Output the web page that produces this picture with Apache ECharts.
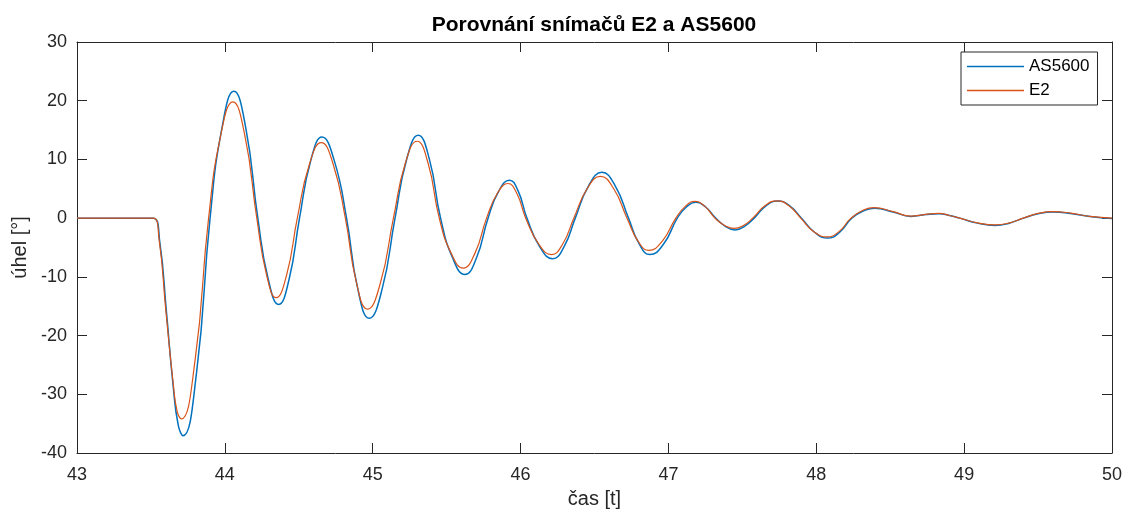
<!DOCTYPE html>
<html>
<head>
<meta charset="utf-8">
<script src="https://cdn.jsdelivr.net/npm/echarts@6/dist/echarts.min.js"></script>
<style>
html,body{margin:0;padding:0;background:#fff;}
#chart{width:1125px;height:514px;}
</style>
</head>
<body>
<div id="chart"></div>
<script>
// Data read (estimated) from the reference picture
const titleText = 'Porovnání snímačů E2 a AS5600';
const xLabel = 'čas [t]';
const yLabel = 'úhel [°]';
const seriesNames = ['AS5600', 'E2'];

const as5600X = [43.00, 43.25, 43.515, 43.56, 43.605, 43.65, 43.685, 43.717, 43.8085, 43.90, 43.98, 44.061, 44.142, 44.223, 44.2935, 44.364, 44.4345, 44.505, 44.581, 44.657, 44.74, 44.823, 44.8995, 44.976, 45.0635, 45.151, 45.2295, 45.308, 45.3835, 45.459, 45.541, 45.623, 45.7015, 45.78, 45.8525, 45.925, 45.984, 46.043, 46.13, 46.217, 46.2935, 46.37, 46.46, 46.55, 46.64, 46.73, 46.8025, 46.875, 46.9675, 47.06, 47.1215, 47.183, 47.2515, 47.32, 47.385, 47.45, 47.515, 47.58, 47.66, 47.74, 47.82, 47.90, 47.9885, 48.077, 48.1585, 48.24, 48.318, 48.396, 48.52, 48.64, 48.74, 48.83, 48.90, 48.97, 49.09, 49.21, 49.30, 49.40, 49.50, 49.60, 49.72, 49.85, 50.00];
const as5600Y = [0, 0, 0, -4.1, -16, -28.5, -35.3, -37.05, -26.3, 0, 15.3, 21.6, 15.3, 0, -10.4, -14.7, -10.4, 0, 9.8, 13.8, 9.8, 0, -12.1, -17.05, -12.1, 0, 10.0, 14.1, 10.0, 0, -6.8, -9.6, -6.8, 0, 4.6, 6.45, 4.6, 0, -4.9, -6.9, -4.9, 0, 5.5, 7.8, 5.5, 0, -4.4, -6.2, -4.4, 0, 1.9, 2.7, 1.9, 0, -1.4, -2.0, -1.4, 0, 2.1, 2.9, 2.1, 0, -2.4, -3.4, -2.4, 0, 1.2, 1.7, 1.05, 0.3, 0.6, 0.75, 0.45, 0, -0.85, -1.25, -0.9, 0, 0.75, 1.05, 0.8, 0.3, -0.05];

const e2X = [43.00, 43.25, 43.515, 43.555, 43.60, 43.65, 43.678, 43.706, 43.798, 43.89, 43.972, 44.054, 44.135, 44.216, 44.2815, 44.347, 44.4185, 44.49, 44.571, 44.652, 44.7335, 44.815, 44.89, 44.965, 45.0525, 45.14, 45.22, 45.30, 45.375, 45.45, 45.531, 45.612, 45.691, 45.77, 45.8425, 45.915, 45.975, 46.035, 46.1225, 46.21, 46.285, 46.36, 46.45, 46.54, 46.63, 46.72, 46.794, 46.868, 46.959, 47.05, 47.114, 47.178, 47.2465, 47.315, 47.38, 47.445, 47.5075, 47.57, 47.6525, 47.735, 47.815, 47.895, 47.9835, 48.072, 48.1535, 48.235, 48.3125, 48.39, 48.52, 48.64, 48.74, 48.83, 48.90, 48.97, 49.09, 49.21, 49.30, 49.40, 49.50, 49.60, 49.72, 49.85, 50.00];
const e2Y = [0, 0, 0, -3.6, -15.5, -28, -33.0, -34.2, -24.3, 0, 14.1, 19.8, 14.1, 0, -9.6, -13.55, -9.6, 0, 9.1, 12.85, 9.1, 0, -11.0, -15.5, -11.0, 0, 9.3, 13.1, 9.3, 0, -6.0, -8.5, -6.0, 0, 4.2, 5.9, 4.2, 0, -4.4, -6.2, -4.4, 0, 5.0, 7.1, 5.0, 0, -3.9, -5.5, -3.9, 0, 2.0, 2.85, 2.0, 0, -1.25, -1.75, -1.25, 0, 2.1, 2.95, 2.1, 0, -2.3, -3.2, -2.3, 0, 1.3, 1.8, 1.1, 0.35, 0.65, 0.8, 0.45, 0, -0.8, -1.15, -0.85, 0, 0.8, 1.1, 0.85, 0.3, 0];

const xTicks = {min: 43, max: 50, interval: 1};
const yTicks = {min: -40, max: 30, interval: 10};

const pair = (xs, ys) => xs.map((x, i) => [x, ys[i]]);

const axisColor = '#262626';
const font = 'Liberation Sans, Arial, Helvetica, sans-serif';

const chart = echarts.init(document.getElementById('chart'), null, {renderer: 'canvas'});
const baseAxis = {
  axisLine: {show: true, onZero: false, lineStyle: {color: axisColor, width: 1}},
  axisTick: {show: true, inside: true, length: 10, lineStyle: {color: axisColor}},
  splitLine: {show: false}
};
chart.setOption({
  animation: false,
  backgroundColor: '#fff',
  title: {
    text: titleText, left: 589, top: 10, textAlign: 'center',
    textStyle: {fontFamily: font, fontSize: 21, fontWeight: 'bold', color: '#000'}
  },
  legend: {
    data: seriesNames.map(n => ({name: n, icon: 'rect'})),
    orient: 'vertical', left: 961, top: 52,
    itemWidth: 57, itemHeight: 1.5, itemGap: 5,
    padding: [5, 8, 5, 6],
    borderColor: axisColor, borderWidth: 1, backgroundColor: '#fff',
    textStyle: {fontFamily: font, fontSize: 17, color: '#000', lineHeight: 19}
  },
  grid: {left: 77, right: 10, top: 42, bottom: 60, containLabel: false},
  xAxis: [
    Object.assign({}, baseAxis, {
      type: 'value', position: 'bottom', min: xTicks.min, max: xTicks.max, interval: xTicks.interval,
      name: xLabel, nameLocation: 'middle', nameGap: 36,
      nameTextStyle: {fontFamily: font, fontSize: 20, color: '#262626'},
      axisLabel: {fontFamily: font, fontSize: 18, color: '#262626', margin: 13}
    }),
    Object.assign({}, baseAxis, {
      type: 'value', position: 'top', min: xTicks.min, max: xTicks.max, interval: xTicks.interval,
      axisLabel: {show: false}
    })
  ],
  yAxis: [
    Object.assign({}, baseAxis, {
      type: 'value', position: 'left', min: yTicks.min, max: yTicks.max, interval: yTicks.interval,
      name: yLabel, nameLocation: 'middle', nameGap: 46, nameRotate: 90,
      nameTextStyle: {fontFamily: font, fontSize: 20, color: '#262626'},
      axisLabel: {fontFamily: font, fontSize: 18, color: '#262626', margin: 10}
    }),
    Object.assign({}, baseAxis, {
      type: 'value', position: 'right', min: yTicks.min, max: yTicks.max, interval: yTicks.interval,
      axisLabel: {show: false}
    })
  ],
  series: [
    {
      name: seriesNames[0], type: 'line', data: pair(as5600X, as5600Y),
      showSymbol: false, smooth: 0.5, z: 2,
      lineStyle: {color: '#0072BD', width: 1.5}, itemStyle: {color: '#0072BD'}
    },
    {
      name: seriesNames[1], type: 'line', data: pair(e2X, e2Y),
      showSymbol: false, smooth: 0.5, z: 3,
      lineStyle: {color: '#D95319', width: 1.2}, itemStyle: {color: '#D95319'}
    }
  ]
});
</script>
</body>
</html>
